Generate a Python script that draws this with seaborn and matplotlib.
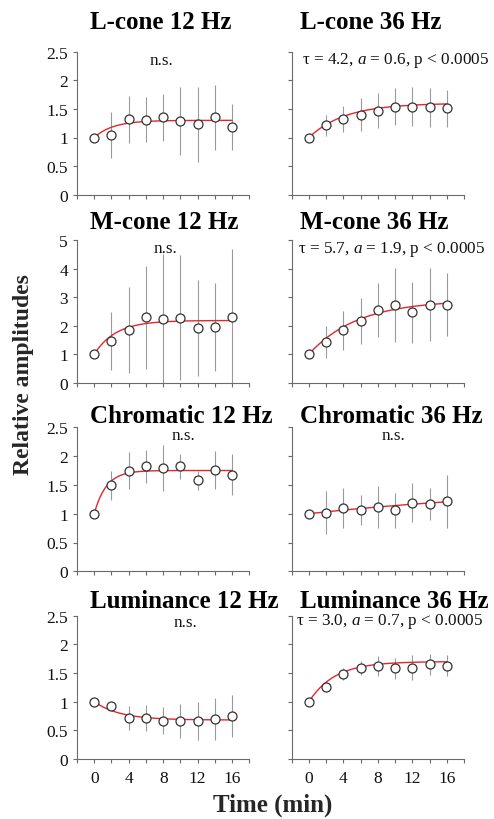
import numpy as np
import pandas as pd
import matplotlib
matplotlib.use("Agg")
import matplotlib.pyplot as plt
import seaborn as sns

sns.set_theme(style="ticks")
plt.rcParams["font.family"] = ["Liberation Serif", "DejaVu Serif"]
plt.rcParams["mathtext.fontset"] = "custom"
plt.rcParams["mathtext.rm"] = "Liberation Serif"
plt.rcParams["mathtext.it"] = "Liberation Serif:italic"

# ---- data -------------------------------------------------------------
time_min = [0, 2, 4, 6, 8, 10, 12, 14, 16]

titles = ["L-cone 12 Hz", "L-cone 36 Hz",
          "M-cone 12 Hz", "M-cone 36 Hz",
          "Chromatic 12 Hz", "Chromatic 36 Hz",
          "Luminance 12 Hz", "Luminance 36 Hz"]

lcone_12_mean = [1.00, 1.05, 1.32, 1.31, 1.35, 1.29, 1.23, 1.35, 1.19]
lcone_12_sem = [0.00, 0.40, 0.41, 0.39, 0.41, 0.60, 0.65, 0.56, 0.40]
lcone_36_mean = [1.00, 1.21, 1.32, 1.40, 1.47, 1.54, 1.54, 1.53, 1.51]
lcone_36_sem = [0.00, 0.18, 0.23, 0.29, 0.30, 0.33, 0.34, 0.34, 0.32]
mcone_12_mean = [1.00, 1.47, 1.85, 2.29, 2.24, 2.27, 1.92, 1.94, 2.31]
mcone_12_sem = [0.00, 1.02, 1.50, 1.80, 2.27, 2.19, 1.67, 1.54, 2.36]
mcone_36_mean = [1.00, 1.44, 1.83, 2.16, 2.56, 2.72, 2.46, 2.73, 2.73]
mcone_36_sem = [0.00, 0.56, 0.68, 0.80, 0.95, 1.30, 1.07, 1.28, 1.10]
chrom_12_mean = [1.00, 1.49, 1.75, 1.82, 1.79, 1.82, 1.58, 1.76, 1.68]
chrom_12_sem = [0.00, 0.25, 0.32, 0.28, 0.40, 0.21, 0.17, 0.33, 0.35]
chrom_36_mean = [1.00, 1.02, 1.10, 1.06, 1.12, 1.06, 1.19, 1.17, 1.22]
chrom_36_sem = [0.00, 0.37, 0.35, 0.26, 0.36, 0.30, 0.34, 0.28, 0.46]
lum_12_mean = [1.00, 0.92, 0.72, 0.71, 0.67, 0.66, 0.66, 0.70, 0.75]
lum_12_sem = [0.00, 0.05, 0.21, 0.23, 0.23, 0.30, 0.33, 0.36, 0.36]
lum_36_mean = [1.00, 1.25, 1.48, 1.59, 1.62, 1.58, 1.59, 1.65, 1.63]
lum_36_sem = [0.00, 0.05, 0.11, 0.12, 0.17, 0.18, 0.22, 0.19, 0.19]

# exponential fits: y = 1 + a * (1 - exp(-t / tau))
fit_tau = [2.2, 4.2, 2.5, 5.7, 1.4, 30.0, 3.0, 3.0]
fit_a = [0.30, 0.6, 1.18, 1.9, 0.75, 0.5, -0.32, 0.7]

stat_labels = ["n.s.", r"τ = 4.2, $\mathit{a}$ = 0.6, p < 0.0005",
               "n.s.", r"τ = 5.7, $\mathit{a}$ = 1.9, p < 0.0005",
               "n.s.", "n.s.",
               "n.s.", r"τ = 3.0, $\mathit{a}$ = 0.7, p < 0.0005"]

y_max = [2.5, 5, 2.5, 2.5]
y_ticks_half = [0, 0.5, 1, 1.5, 2, 2.5]
y_tick_labels_half = ["0", "0.5", "1", "1.5", "2", "2.5"]
y_ticks_int = [0, 1, 2, 3, 4, 5]
y_tick_labels_int = ["0", "1", "2", "3", "4", "5"]
x_ticks = [-2, 0, 2, 4, 6, 8, 10, 12, 14, 16, 18]
x_tick_labels = ["", "0", "", "4", "", "8", "", "12", "", "16", ""]

means = [lcone_12_mean, lcone_36_mean, mcone_12_mean, mcone_36_mean,
         chrom_12_mean, chrom_36_mean, lum_12_mean, lum_36_mean]
sems = [lcone_12_sem, lcone_36_sem, mcone_12_sem, mcone_36_sem,
        chrom_12_sem, chrom_36_sem, lum_12_sem, lum_36_sem]

# ---- layout (pixels of a 494 x 820 canvas) ----------------------------
W, H = 494, 820
col_left = [77, 291.7]
ax_w = 172.4
row_top = [52.7, 241.0, 428.3, 616.7]
row_bot = [195.7, 383.7, 572.3, 760.0]
title_x = [90, 300]
title_base = [29.3, 229.3, 423.0, 607.8]
# annotation position (data x, data y baseline) per panel
stat_pos = [(7.8, 2.28), (10.0, 2.31),
            (8.3, 4.57), (9.6, 4.57),
            (10.3, 2.30), (9.8, 2.30),
            (10.6, 2.32), (9.3, 2.36)]

spine_col = "#6b6b6b"
err_col = "#9a9a9a"
fit_col = "#e3262d"

fig = plt.figure(figsize=(W / 100, H / 100), dpi=100)
fig.patch.set_facecolor("white")

t_fine = np.linspace(0, 16, 200)

for i in range(8):
    r, c = divmod(i, 2)
    ax = fig.add_axes([col_left[c] / W, 1 - row_bot[r] / H,
                       ax_w / W, (row_bot[r] - row_top[r]) / H])
    ax.set_facecolor("white")

    df = pd.DataFrame({"t": time_min, "y": means[i], "e": sems[i]})
    fit_df = pd.DataFrame({
        "t": t_fine,
        "y": 1 + fit_a[i] * (1 - np.exp(-t_fine / fit_tau[i])),
    })

    ax.errorbar(df["t"], df["y"], yerr=df["e"], fmt="none",
                ecolor=err_col, elinewidth=0.8, capsize=0, zorder=2)
    sns.lineplot(data=fit_df, x="t", y="y", ax=ax, color=fit_col,
                 linewidth=1.0, zorder=3)
    sns.scatterplot(data=df, x="t", y="y", ax=ax, s=42, facecolor="white",
                    edgecolor="#333333", linewidth=0.9, zorder=4)

    ax.set_xlim(-2, 18)
    ax.set_ylim(0, y_max[r])
    ax.set_xticks(x_ticks)
    if r == 3:
        ax.set_xticklabels(x_tick_labels)
    else:
        ax.set_xticklabels([])
    if r == 1:
        ax.set_yticks(y_ticks_int)
        labels = y_tick_labels_int
    else:
        ax.set_yticks(y_ticks_half)
        labels = y_tick_labels_half
    if c == 0:
        ax.set_yticklabels(labels)
    else:
        ax.set_yticklabels([])
    ax.set_xlabel("")
    ax.set_ylabel("")
    ax.tick_params(axis="both", direction="out", length=3.0, width=0.8,
                   color=spine_col, labelsize=12.5, labelcolor="#111111")
    ax.tick_params(axis="y", pad=3.5)
    ax.tick_params(axis="x", pad=5)
    for side in ("top", "right"):
        ax.spines[side].set_visible(False)
    for side in ("left", "bottom"):
        ax.spines[side].set_color(spine_col)
        ax.spines[side].set_linewidth(0.8)

    sx, sy = stat_pos[i]
    ax.text(sx, sy, stat_labels[i], ha="center", va="baseline",
            fontsize=12.3, color="#111111")

    fig.text(title_x[c] / W, 1 - title_base[r] / H, titles[i],
             ha="left", va="baseline", fontsize=18, fontweight="bold",
             color="#000000")

fig.text(24 / W, 1 - 375 / H, "Relative amplitudes", rotation=90,
         ha="center", va="center", fontsize=17, fontweight="bold")
fig.text(273 / W, 1 - 811.7 / H, "Time (min)", ha="center",
         va="baseline", fontsize=18, fontweight="bold")

fig.savefig("out.png", dpi=100, facecolor="white")
